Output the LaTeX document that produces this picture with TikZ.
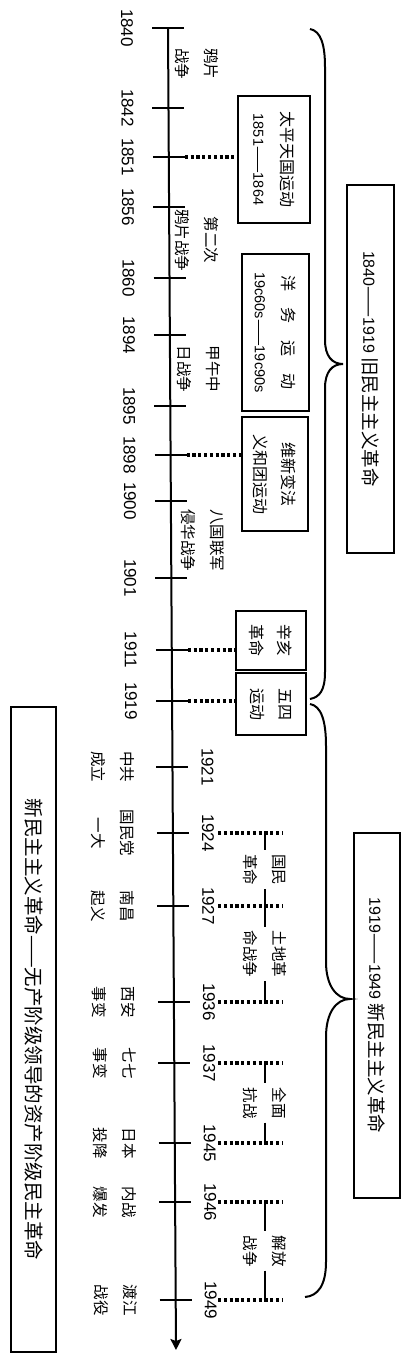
\documentclass[tikz,border=0pt]{standalone}
\usepackage{fontspec}
\setmainfont{Liberation Sans}
\newfontfamily\cjk{Noto Sans CJK SC}
\usetikzlibrary{arrows.meta,calc}
\newcommand\dg[1]{{\rmfamily\fontsize{14.5}{28}\selectfont #1}}
\newcommand\dgb[1]{{\rmfamily\fontsize{16}{22}\selectfont #1}}

\begin{document}
\begin{tikzpicture}[x=1pt,y=-1pt,
  ln/.style={line width=2pt},
  yr/.style={rotate=-90,inner sep=0pt,font=\fontsize{17}{20}\selectfont},
  ev/.style={rotate=-90,inner sep=0pt,align=center,font=\cjk\fontsize{15.5}{29}\selectfont},
  evbox/.style={draw,line width=2pt,rotate=-90,inner sep=0pt,align=center,
                font=\cjk\fontsize{16}{28}\selectfont},
  erabox/.style={evbox,font=\cjk\fontsize{18.5}{22}\selectfont},
  dots/.style={line width=3.5pt,dash pattern=on 3.2pt off 2.6pt}]
\useasboundingbox (0,0) rectangle (401,1366);

% time axis
\coordinate (axtop) at (168,28);
\coordinate (axbot) at (176,1350);
\draw[ln,-{Stealth[length=11pt,width=11pt,inset=2pt]}] (axtop) -- (axbot);

% 1840--1919: years left, events right
\foreach \yr/\yy in {1840/28,1842/108,1851/157,1856/207,1860/278,1894/335,1895/406,
                     1898/455,1900/501,1901/578,1911/650,1919/701}{
  \coordinate (t\yr) at ($(axtop)!{(\yy-28)/1322}!(axbot)$);
  \draw[ln] ([xshift=-16pt]t\yr) -- ([xshift=16pt]t\yr);
  \node[yr] (y\yr) at ([xshift=-41pt]t\yr) {\yr};
}
\node[ev] (opium) at (196.5,63.5) {鸦片\\战争};
\node[ev] (opium2) at (196.5,240) {第二次\\鸦片战争};
\node[ev] (jiawu) at (198.5,369) {甲午中\\日战争};
\node[ev] (baguo) at (202.5,540) {八国联军\\侵华战争};

\node[evbox,minimum width=127pt,minimum height=72pt] (taiping) at (274,159.5)
  {太平天国运动\\\dg{1851}——\dg{1864}};
\node[evbox,minimum width=157pt,minimum height=67pt] (yangwu) at (275.5,332.5)
  {洋\hspace{17pt}务\hspace{17pt}运\hspace{17pt}动\\\dg{19c60s}——\dg{19c90s}};
\node[evbox,minimum width=114pt,minimum height=66pt] (weixin) at (275,474) {维新变法\\义和团运动};
\node[evbox,minimum width=59pt,minimum height=70pt] (xinhai) at (271,640.5) {辛亥\\革命};
\node[evbox,minimum width=62pt,minimum height=70pt] (wusi) at (271,704) {五四\\运动};

\draw[dots] ([xshift=16pt]t1851) -- (t1851 -| taiping.south);
\draw[dots] ([xshift=16pt]t1898) -- (t1898 -| weixin.south);
\draw[dots] ([xshift=16pt]t1911) -- (t1911 -| xinhai.south);
\draw[dots] ([xshift=16pt]t1919) -- (t1919 -| wusi.south);

% old democratic revolution
\draw[ln] (310,29) .. controls (321,31) and (325,45) .. (325,67) -- (325,340)
  .. controls (325,356) and (332,364) .. (343,364)
  .. controls (332,364) and (325,372) .. (325,388) -- (325,672)
  .. controls (325,690) and (320,697) .. (310,699);
\node[erabox,minimum width=368pt,minimum height=47pt] (old) at (370.5,369)
  {\dgb{1840}——\dgb{1919} 旧民主主义革命};

% 1919--1949: years right, events left
\foreach \yr/\yy/\txt in {1921/767/{中共\\成立},1924/833/{国民党\\一大},1927/906/{南昌\\起义},
                          1936/1002/{西安\\事变},1937/1063/{七七\\事变},1945/1143/{日本\\投降},
                          1946/1202/{内战\\爆发},1949/1300/{渡江\\战役}}{
  \coordinate (t\yr) at ($(axtop)!{(\yy-28)/1322}!(axbot)$);
  \draw[ln] ([xshift=-16pt]t\yr) -- ([xshift=16pt]t\yr);
  \node[yr] (y\yr) at ([xshift=35pt]t\yr) {\yr};
  \node[ev] (e\yr) at ([xshift=-60pt]t\yr) {\txt};
}
\foreach \yr/\yy in {1924/833,1927/906,1936/1002,1937/1063,1945/1143,1946/1202,1949/1300}{
  \coordinate (dl\yr) at (218,\yy);
  \coordinate (dr\yr) at (283,\yy);
  \coordinate (v\yr) at (265,\yy);
  \draw[dots] (dl\yr) -- (dr\yr);
}
\foreach \a/\b/\nm/\txt in {1924/1927/guomin/{国民\\革命},1927/1936/tudi/{土地革\\命战争},
                            1937/1945/kangzhan/{全面\\抗战},1946/1949/jiefang/{解放\\战争}}{
  \node[ev,inner xsep=4pt] (\nm) at ($(v\a)!0.5!(v\b)$) {\txt};
  \draw[ln] (v\a) -- (\nm.west);
  \draw[ln] (\nm.east) -- (v\b);
}

% new democratic revolution
\draw[ln] (310,704) .. controls (321,706) and (326,720) .. (326,746) -- (326,962)
  .. controls (326,985) and (336,999) .. (350,999)
  .. controls (336,999) and (326,1013) .. (326,1037) -- (326,1262)
  .. controls (326,1285) and (318,1296) .. (305,1297);
\node[erabox,minimum width=365pt,minimum height=46pt] (new) at (376.5,1015.5)
  {\dgb{1919}——\dgb{1949} 新民主主义革命};
\node[erabox,minimum width=645pt,minimum height=45pt,font=\cjk\fontsize{19.5}{22}\selectfont]
  (nature) at (33.5,1029.5) {新民主主义革命——无产阶级领导的资产阶级民主革命};
\end{tikzpicture}
\end{document}
